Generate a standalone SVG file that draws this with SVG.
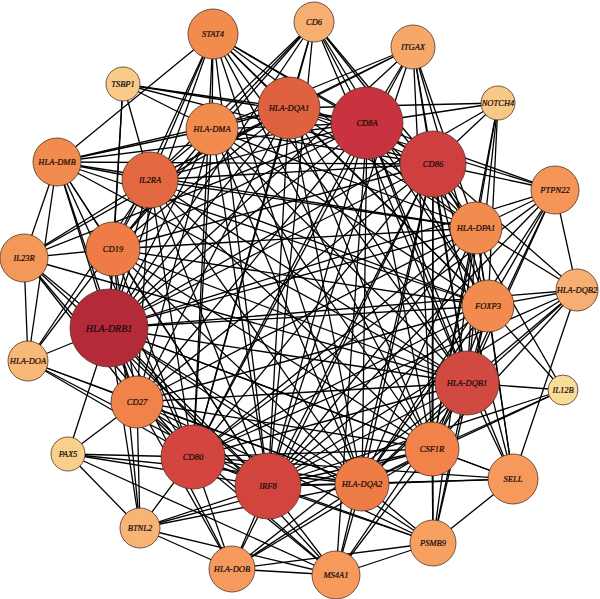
<svg xmlns="http://www.w3.org/2000/svg" width="600" height="599" viewBox="0 0 600 599">
<style>
.e line{stroke:#000;stroke-width:1.3}
.n circle{stroke:#4e3326;stroke-width:0.8}
.n text{font-family:"Liberation Serif","Times New Roman",serif;font-style:italic;font-size:8.5px;text-anchor:middle;fill:#150909;stroke:#150909;stroke-width:0.2}
</style>
<rect width="600" height="599" fill="#fff"/>
<g id="edges" class="e">
<line x1="123" y1="84" x2="289" y2="108"/><line x1="123" y1="84" x2="367" y2="123"/><line x1="123" y1="84" x2="212" y2="129"/><line x1="123" y1="84" x2="113" y2="249"/><line x1="123" y1="84" x2="150" y2="180"/><line x1="123" y1="84" x2="109" y2="328"/><line x1="123" y1="84" x2="433" y2="164"/>
<line x1="498" y1="103" x2="367" y2="123"/><line x1="498" y1="103" x2="289" y2="108"/><line x1="498" y1="103" x2="433" y2="164"/><line x1="498" y1="103" x2="476" y2="228"/><line x1="498" y1="103" x2="488" y2="306"/><line x1="498" y1="103" x2="467" y2="383"/><line x1="498" y1="103" x2="432" y2="449"/><line x1="498" y1="103" x2="109" y2="328"/>
<line x1="68" y1="454" x2="109" y2="328"/><line x1="68" y1="454" x2="137" y2="402"/><line x1="68" y1="454" x2="193" y2="457"/><line x1="68" y1="454" x2="268" y2="486"/><line x1="68" y1="454" x2="140" y2="528"/><line x1="68" y1="454" x2="362" y2="484"/><line x1="68" y1="454" x2="336" y2="575"/>
<line x1="563" y1="390" x2="467" y2="383"/><line x1="563" y1="390" x2="488" y2="306"/><line x1="563" y1="390" x2="432" y2="449"/><line x1="563" y1="390" x2="362" y2="484"/><line x1="563" y1="390" x2="433" y2="164"/><line x1="563" y1="390" x2="268" y2="486"/>
<line x1="314" y1="22" x2="289" y2="108"/><line x1="314" y1="22" x2="367" y2="123"/><line x1="314" y1="22" x2="433" y2="164"/><line x1="314" y1="22" x2="212" y2="129"/><line x1="314" y1="22" x2="150" y2="180"/><line x1="314" y1="22" x2="109" y2="328"/><line x1="314" y1="22" x2="113" y2="249"/><line x1="314" y1="22" x2="476" y2="228"/><line x1="314" y1="22" x2="488" y2="306"/><line x1="314" y1="22" x2="467" y2="383"/><line x1="314" y1="22" x2="268" y2="486"/><line x1="314" y1="22" x2="193" y2="457"/>
<line x1="413" y1="47" x2="289" y2="108"/><line x1="413" y1="47" x2="367" y2="123"/><line x1="413" y1="47" x2="433" y2="164"/><line x1="413" y1="47" x2="212" y2="129"/><line x1="413" y1="47" x2="476" y2="228"/><line x1="413" y1="47" x2="488" y2="306"/><line x1="413" y1="47" x2="467" y2="383"/><line x1="413" y1="47" x2="432" y2="449"/><line x1="413" y1="47" x2="268" y2="486"/><line x1="413" y1="47" x2="109" y2="328"/><line x1="413" y1="47" x2="150" y2="180"/><line x1="413" y1="47" x2="193" y2="457"/>
<line x1="577" y1="290" x2="488" y2="306"/><line x1="577" y1="290" x2="476" y2="228"/><line x1="577" y1="290" x2="467" y2="383"/><line x1="577" y1="290" x2="432" y2="449"/><line x1="577" y1="290" x2="362" y2="484"/><line x1="577" y1="290" x2="555" y2="190"/><line x1="577" y1="290" x2="433" y2="164"/><line x1="577" y1="290" x2="513" y2="479"/><line x1="577" y1="290" x2="268" y2="486"/><line x1="577" y1="290" x2="109" y2="328"/><line x1="577" y1="290" x2="193" y2="457"/>
<line x1="28" y1="361" x2="109" y2="328"/><line x1="28" y1="361" x2="113" y2="249"/><line x1="28" y1="361" x2="57" y2="162"/><line x1="28" y1="361" x2="150" y2="180"/><line x1="28" y1="361" x2="137" y2="402"/><line x1="28" y1="361" x2="193" y2="457"/><line x1="28" y1="361" x2="268" y2="486"/><line x1="28" y1="361" x2="24" y2="258"/><line x1="28" y1="361" x2="362" y2="484"/>
<line x1="140" y1="528" x2="193" y2="457"/><line x1="140" y1="528" x2="137" y2="402"/><line x1="140" y1="528" x2="109" y2="328"/><line x1="140" y1="528" x2="232" y2="569"/><line x1="140" y1="528" x2="268" y2="486"/><line x1="140" y1="528" x2="362" y2="484"/><line x1="140" y1="528" x2="113" y2="249"/><line x1="140" y1="528" x2="432" y2="449"/>
<line x1="213" y1="34" x2="212" y2="129"/><line x1="213" y1="34" x2="150" y2="180"/><line x1="213" y1="34" x2="113" y2="249"/><line x1="213" y1="34" x2="109" y2="328"/><line x1="213" y1="34" x2="289" y2="108"/><line x1="213" y1="34" x2="367" y2="123"/><line x1="213" y1="34" x2="433" y2="164"/><line x1="213" y1="34" x2="476" y2="228"/><line x1="213" y1="34" x2="467" y2="383"/><line x1="213" y1="34" x2="268" y2="486"/><line x1="213" y1="34" x2="193" y2="457"/><line x1="213" y1="34" x2="488" y2="306"/><line x1="213" y1="34" x2="432" y2="449"/><line x1="213" y1="34" x2="57" y2="162"/><line x1="213" y1="34" x2="362" y2="484"/>
<line x1="555" y1="190" x2="433" y2="164"/><line x1="555" y1="190" x2="367" y2="123"/><line x1="555" y1="190" x2="289" y2="108"/><line x1="555" y1="190" x2="476" y2="228"/><line x1="555" y1="190" x2="488" y2="306"/><line x1="555" y1="190" x2="467" y2="383"/><line x1="555" y1="190" x2="432" y2="449"/><line x1="555" y1="190" x2="268" y2="486"/><line x1="555" y1="190" x2="109" y2="328"/><line x1="555" y1="190" x2="193" y2="457"/><line x1="555" y1="190" x2="362" y2="484"/>
<line x1="24" y1="258" x2="57" y2="162"/><line x1="24" y1="258" x2="113" y2="249"/><line x1="24" y1="258" x2="109" y2="328"/><line x1="24" y1="258" x2="150" y2="180"/><line x1="24" y1="258" x2="193" y2="457"/><line x1="24" y1="258" x2="137" y2="402"/><line x1="24" y1="258" x2="268" y2="486"/><line x1="24" y1="258" x2="289" y2="108"/><line x1="24" y1="258" x2="367" y2="123"/><line x1="24" y1="258" x2="467" y2="383"/>
<line x1="513" y1="479" x2="467" y2="383"/><line x1="513" y1="479" x2="432" y2="449"/><line x1="513" y1="479" x2="362" y2="484"/><line x1="513" y1="479" x2="433" y2="543"/><line x1="513" y1="479" x2="488" y2="306"/><line x1="513" y1="479" x2="268" y2="486"/><line x1="513" y1="479" x2="433" y2="164"/><line x1="513" y1="479" x2="476" y2="228"/><line x1="513" y1="479" x2="193" y2="457"/><line x1="513" y1="479" x2="109" y2="328"/><line x1="513" y1="479" x2="367" y2="123"/>
<line x1="433" y1="543" x2="432" y2="449"/><line x1="433" y1="543" x2="362" y2="484"/><line x1="433" y1="543" x2="336" y2="575"/><line x1="433" y1="543" x2="467" y2="383"/><line x1="433" y1="543" x2="268" y2="486"/><line x1="433" y1="543" x2="193" y2="457"/><line x1="433" y1="543" x2="109" y2="328"/><line x1="433" y1="543" x2="476" y2="228"/><line x1="433" y1="543" x2="433" y2="164"/><line x1="433" y1="543" x2="137" y2="402"/><line x1="433" y1="543" x2="488" y2="306"/>
<line x1="336" y1="575" x2="362" y2="484"/><line x1="336" y1="575" x2="268" y2="486"/><line x1="336" y1="575" x2="193" y2="457"/><line x1="336" y1="575" x2="232" y2="569"/><line x1="336" y1="575" x2="432" y2="449"/><line x1="336" y1="575" x2="467" y2="383"/><line x1="336" y1="575" x2="109" y2="328"/><line x1="336" y1="575" x2="137" y2="402"/><line x1="336" y1="575" x2="140" y2="528"/><line x1="336" y1="575" x2="433" y2="164"/><line x1="336" y1="575" x2="367" y2="123"/>
<line x1="232" y1="569" x2="268" y2="486"/><line x1="232" y1="569" x2="193" y2="457"/><line x1="232" y1="569" x2="362" y2="484"/><line x1="232" y1="569" x2="432" y2="449"/><line x1="232" y1="569" x2="109" y2="328"/><line x1="232" y1="569" x2="137" y2="402"/><line x1="232" y1="569" x2="467" y2="383"/><line x1="232" y1="569" x2="433" y2="543"/><line x1="232" y1="569" x2="433" y2="164"/>
<line x1="212" y1="129" x2="289" y2="108"/><line x1="212" y1="129" x2="367" y2="123"/><line x1="212" y1="129" x2="433" y2="164"/><line x1="212" y1="129" x2="150" y2="180"/><line x1="212" y1="129" x2="57" y2="162"/><line x1="212" y1="129" x2="113" y2="249"/><line x1="212" y1="129" x2="109" y2="328"/><line x1="212" y1="129" x2="476" y2="228"/><line x1="212" y1="129" x2="488" y2="306"/><line x1="212" y1="129" x2="467" y2="383"/><line x1="212" y1="129" x2="268" y2="486"/><line x1="212" y1="129" x2="193" y2="457"/><line x1="212" y1="129" x2="432" y2="449"/><line x1="212" y1="129" x2="362" y2="484"/><line x1="212" y1="129" x2="137" y2="402"/>
<line x1="57" y1="162" x2="289" y2="108"/><line x1="57" y1="162" x2="367" y2="123"/><line x1="57" y1="162" x2="150" y2="180"/><line x1="57" y1="162" x2="113" y2="249"/><line x1="57" y1="162" x2="109" y2="328"/><line x1="57" y1="162" x2="433" y2="164"/><line x1="57" y1="162" x2="137" y2="402"/><line x1="57" y1="162" x2="193" y2="457"/><line x1="57" y1="162" x2="268" y2="486"/><line x1="57" y1="162" x2="467" y2="383"/><line x1="57" y1="162" x2="488" y2="306"/><line x1="57" y1="162" x2="476" y2="228"/>
<line x1="113" y1="249" x2="289" y2="108"/><line x1="113" y1="249" x2="367" y2="123"/><line x1="113" y1="249" x2="150" y2="180"/><line x1="113" y1="249" x2="433" y2="164"/><line x1="113" y1="249" x2="109" y2="328"/><line x1="113" y1="249" x2="476" y2="228"/><line x1="113" y1="249" x2="488" y2="306"/><line x1="113" y1="249" x2="467" y2="383"/><line x1="113" y1="249" x2="268" y2="486"/><line x1="113" y1="249" x2="193" y2="457"/><line x1="113" y1="249" x2="137" y2="402"/><line x1="113" y1="249" x2="432" y2="449"/><line x1="113" y1="249" x2="362" y2="484"/>
<line x1="137" y1="402" x2="109" y2="328"/><line x1="137" y1="402" x2="193" y2="457"/><line x1="137" y1="402" x2="268" y2="486"/><line x1="137" y1="402" x2="367" y2="123"/><line x1="137" y1="402" x2="433" y2="164"/><line x1="137" y1="402" x2="467" y2="383"/><line x1="137" y1="402" x2="289" y2="108"/><line x1="137" y1="402" x2="150" y2="180"/><line x1="137" y1="402" x2="432" y2="449"/><line x1="137" y1="402" x2="362" y2="484"/><line x1="137" y1="402" x2="488" y2="306"/><line x1="137" y1="402" x2="476" y2="228"/>
<line x1="488" y1="306" x2="367" y2="123"/><line x1="488" y1="306" x2="433" y2="164"/><line x1="488" y1="306" x2="289" y2="108"/><line x1="488" y1="306" x2="476" y2="228"/><line x1="488" y1="306" x2="467" y2="383"/><line x1="488" y1="306" x2="432" y2="449"/><line x1="488" y1="306" x2="268" y2="486"/><line x1="488" y1="306" x2="193" y2="457"/><line x1="488" y1="306" x2="109" y2="328"/><line x1="488" y1="306" x2="150" y2="180"/><line x1="488" y1="306" x2="362" y2="484"/>
<line x1="476" y1="228" x2="367" y2="123"/><line x1="476" y1="228" x2="433" y2="164"/><line x1="476" y1="228" x2="289" y2="108"/><line x1="476" y1="228" x2="467" y2="383"/><line x1="476" y1="228" x2="432" y2="449"/><line x1="476" y1="228" x2="268" y2="486"/><line x1="476" y1="228" x2="193" y2="457"/><line x1="476" y1="228" x2="109" y2="328"/><line x1="476" y1="228" x2="150" y2="180"/><line x1="476" y1="228" x2="362" y2="484"/>
<line x1="432" y1="449" x2="367" y2="123"/><line x1="432" y1="449" x2="433" y2="164"/><line x1="432" y1="449" x2="289" y2="108"/><line x1="432" y1="449" x2="467" y2="383"/><line x1="432" y1="449" x2="268" y2="486"/><line x1="432" y1="449" x2="193" y2="457"/><line x1="432" y1="449" x2="109" y2="328"/><line x1="432" y1="449" x2="150" y2="180"/><line x1="432" y1="449" x2="362" y2="484"/>
<line x1="362" y1="484" x2="367" y2="123"/><line x1="362" y1="484" x2="433" y2="164"/><line x1="362" y1="484" x2="289" y2="108"/><line x1="362" y1="484" x2="467" y2="383"/><line x1="362" y1="484" x2="268" y2="486"/><line x1="362" y1="484" x2="193" y2="457"/><line x1="362" y1="484" x2="109" y2="328"/><line x1="362" y1="484" x2="150" y2="180"/>
<line x1="289" y1="108" x2="367" y2="123"/><line x1="289" y1="108" x2="433" y2="164"/><line x1="289" y1="108" x2="150" y2="180"/><line x1="289" y1="108" x2="109" y2="328"/><line x1="289" y1="108" x2="467" y2="383"/><line x1="289" y1="108" x2="268" y2="486"/><line x1="289" y1="108" x2="193" y2="457"/>
<line x1="150" y1="180" x2="367" y2="123"/><line x1="150" y1="180" x2="433" y2="164"/><line x1="150" y1="180" x2="109" y2="328"/><line x1="150" y1="180" x2="467" y2="383"/><line x1="150" y1="180" x2="268" y2="486"/><line x1="150" y1="180" x2="193" y2="457"/>
<line x1="367" y1="123" x2="433" y2="164"/><line x1="367" y1="123" x2="109" y2="328"/><line x1="367" y1="123" x2="268" y2="486"/><line x1="367" y1="123" x2="467" y2="383"/><line x1="367" y1="123" x2="193" y2="457"/><line x1="433" y1="164" x2="109" y2="328"/><line x1="433" y1="164" x2="268" y2="486"/><line x1="433" y1="164" x2="467" y2="383"/><line x1="433" y1="164" x2="193" y2="457"/><line x1="109" y1="328" x2="268" y2="486"/><line x1="109" y1="328" x2="467" y2="383"/><line x1="109" y1="328" x2="193" y2="457"/><line x1="268" y1="486" x2="467" y2="383"/><line x1="268" y1="486" x2="193" y2="457"/><line x1="467" y1="383" x2="193" y2="457"/>
</g>
<g id="STAT4" class="n"><circle cx="213" cy="34" r="25" fill="#F28B4E"/><text x="213" y="37">STAT4</text></g>
<g id="CD6" class="n"><circle cx="314" cy="22" r="20" fill="#F7AE72"/><text x="314" y="25">CD6</text></g>
<g id="ITGAX" class="n"><circle cx="413" cy="47" r="22" fill="#F6A86A"/><text x="413" y="50">ITGAX</text></g>
<g id="TSBP1" class="n"><circle cx="123" cy="84" r="17" fill="#F8CC88"/><text x="123" y="87">TSBP1</text></g>
<g id="NOTCH4" class="n"><circle cx="498" cy="103" r="17" fill="#F8C886"/><text x="498" y="106">NOTCH4</text></g>
<g id="HLA-DQA1" class="n"><circle cx="289" cy="108" r="31" fill="#E0613F"/><text x="289" y="111">HLA-DQA1</text></g>
<g id="CD8A" class="n"><circle cx="367" cy="123" r="36" fill="#C9333F"/><text x="367" y="126">CD8A</text></g>
<g id="HLA-DMA" class="n"><circle cx="212" cy="129" r="26" fill="#F28B4E"/><text x="212" y="132">HLA-DMA</text></g>
<g id="HLA-DMB" class="n"><circle cx="57" cy="162" r="24" fill="#F28B4E"/><text x="57" y="165">HLA-DMB</text></g>
<g id="IL2RA" class="n"><circle cx="150" cy="180" r="28" fill="#E4683F"/><text x="150" y="183">IL2RA</text></g>
<g id="CD86" class="n"><circle cx="433" cy="164" r="33" fill="#CE4040"/><text x="433" y="167">CD86</text></g>
<g id="PTPN22" class="n"><circle cx="555" cy="190" r="24" fill="#F59558"/><text x="555" y="193">PTPN22</text></g>
<g id="HLA-DPA1" class="n"><circle cx="476" cy="228" r="26" fill="#F28B4E"/><text x="476" y="231">HLA-DPA1</text></g>
<g id="IL23R" class="n"><circle cx="24" cy="258" r="24" fill="#F4985A"/><text x="24" y="261">IL23R</text></g>
<g id="CD19" class="n"><circle cx="113" cy="249" r="27" fill="#EF7C46"/><text x="113" y="252">CD19</text></g>
<g id="HLA-DRB1" class="n"><circle cx="109" cy="328" r="39" fill="#B42A39"/><text x="109" y="331.5" style="font-size:10px">HLA-DRB1</text></g>
<g id="FOXP3" class="n"><circle cx="488" cy="306" r="26" fill="#F28B4E"/><text x="488" y="309">FOXP3</text></g>
<g id="HLA-DQB2" class="n"><circle cx="577" cy="290" r="21" fill="#F7AE72"/><text x="577" y="293">HLA-DQB2</text></g>
<g id="HLA-DOA" class="n"><circle cx="28" cy="361" r="20" fill="#F7B878"/><text x="28" y="364">HLA-DOA</text></g>
<g id="CD27" class="n"><circle cx="137" cy="402" r="26" fill="#F0824A"/><text x="137" y="405">CD27</text></g>
<g id="PAX5" class="n"><circle cx="68" cy="454" r="17" fill="#F8D08C"/><text x="68" y="457">PAX5</text></g>
<g id="CD80" class="n"><circle cx="193" cy="457" r="32" fill="#D2463F"/><text x="193" y="460">CD80</text></g>
<g id="IRF8" class="n"><circle cx="268" cy="486" r="33" fill="#D2453E"/><text x="268" y="489">IRF8</text></g>
<g id="BTNL2" class="n"><circle cx="140" cy="528" r="20" fill="#F7B474"/><text x="140" y="531">BTNL2</text></g>
<g id="HLA-DOB" class="n"><circle cx="232" cy="569" r="23" fill="#F59A5C"/><text x="232" y="572">HLA-DOB</text></g>
<g id="HLA-DQB1" class="n"><circle cx="467" cy="383" r="32" fill="#D04A41"/><text x="467" y="386">HLA-DQB1</text></g>
<g id="IL12B" class="n"><circle cx="563" cy="390" r="15" fill="#F9DC98"/><text x="563" y="393">IL12B</text></g>
<g id="CSF1R" class="n"><circle cx="432" cy="449" r="27" fill="#F0824A"/><text x="432" y="452">CSF1R</text></g>
<g id="SELL" class="n"><circle cx="513" cy="479" r="25" fill="#F59A5C"/><text x="513" y="482">SELL</text></g>
<g id="HLA-DQA2" class="n"><circle cx="362" cy="484" r="27" fill="#EE7C47"/><text x="362" y="487">HLA-DQA2</text></g>
<g id="PSMB9" class="n"><circle cx="433" cy="543" r="23" fill="#F6A062"/><text x="433" y="546">PSMB9</text></g>
<g id="MS4A1" class="n"><circle cx="336" cy="575" r="24" fill="#F59A5C"/><text x="336" y="578">MS4A1</text></g>
</svg>
